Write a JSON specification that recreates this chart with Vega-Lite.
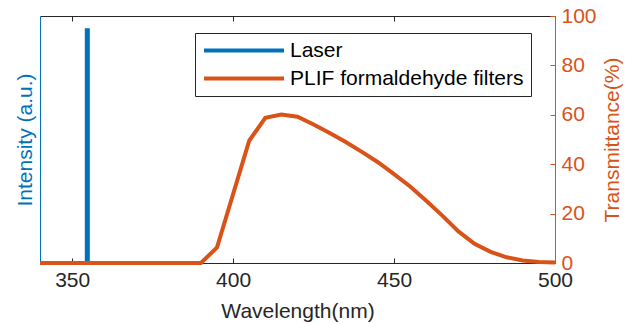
{
  "$schema": "https://vega.github.io/schema/vega-lite/v6.json",
  "width": 515,
  "height": 247,
  "autosize": {"type": "none"},
  "padding": {"left": 40, "top": 16, "right": 83, "bottom": 61},
  "background": "white",
  "config": {
    "view": {"stroke": null},
    "font": "Liberation Sans",
    "axis": {
      "grid": false,
      "labelFont": "Liberation Sans",
      "titleFont": "Liberation Sans",
      "labelFontSize": 21,
      "titleFontSize": 21,
      "titleFontWeight": "normal",
      "labelColor": "#262626",
      "titleColor": "#262626",
      "domainColor": "#262626",
      "tickColor": "#262626",
      "domainWidth": 1,
      "tickWidth": 1,
      "labelFlush": false,
      "labelOverlap": false
    },
    "legend": {
      "orient": "none",
      "legendX": 155,
      "legendY": 17,
      "symbolType": "stroke",
      "symbolSize": 6400,
      "symbolStrokeWidth": 4,
      "clipHeight": 21,
      "labelFont": "Liberation Sans",
      "labelFontSize": 21,
      "labelColor": "#000000",
      "strokeColor": "#262626",
      "fillColor": "white",
      "padding": 7,
      "rowPadding": 6,
      "labelOffset": 4,
      "labelLimit": 400
    }
  },
  "data": {
    "values": [
      {"series": "Laser", "wavelength": 354.7, "value": 95},
      {"series": "PLIF formaldehyde filters", "wavelength": 340, "value": 0},
      {"series": "PLIF formaldehyde filters", "wavelength": 390, "value": 0},
      {"series": "PLIF formaldehyde filters", "wavelength": 395, "value": 6.3},
      {"series": "PLIF formaldehyde filters", "wavelength": 405, "value": 49.5},
      {"series": "PLIF formaldehyde filters", "wavelength": 410, "value": 58.8},
      {"series": "PLIF formaldehyde filters", "wavelength": 415, "value": 60.1},
      {"series": "PLIF formaldehyde filters", "wavelength": 420, "value": 59.2},
      {"series": "PLIF formaldehyde filters", "wavelength": 425, "value": 56.1},
      {"series": "PLIF formaldehyde filters", "wavelength": 430, "value": 52.6},
      {"series": "PLIF formaldehyde filters", "wavelength": 435, "value": 49},
      {"series": "PLIF formaldehyde filters", "wavelength": 440, "value": 45},
      {"series": "PLIF formaldehyde filters", "wavelength": 445, "value": 40.8},
      {"series": "PLIF formaldehyde filters", "wavelength": 450, "value": 36},
      {"series": "PLIF formaldehyde filters", "wavelength": 455, "value": 31},
      {"series": "PLIF formaldehyde filters", "wavelength": 460, "value": 25.2},
      {"series": "PLIF formaldehyde filters", "wavelength": 465, "value": 19.2},
      {"series": "PLIF formaldehyde filters", "wavelength": 470, "value": 12.8},
      {"series": "PLIF formaldehyde filters", "wavelength": 475, "value": 7.8},
      {"series": "PLIF formaldehyde filters", "wavelength": 480, "value": 4.5},
      {"series": "PLIF formaldehyde filters", "wavelength": 485, "value": 2.3},
      {"series": "PLIF formaldehyde filters", "wavelength": 490, "value": 1.0},
      {"series": "PLIF formaldehyde filters", "wavelength": 495, "value": 0.4},
      {"series": "PLIF formaldehyde filters", "wavelength": 500, "value": 0.2}
    ]
  },
  "layer": [
    {
      "transform": [{"filter": "datum.series == 'Laser'"}],
      "mark": {"type": "rule", "strokeWidth": 5},
      "encoding": {
        "x": {
          "field": "wavelength",
          "type": "quantitative",
          "scale": {"domain": [340, 500], "nice": false, "zero": false},
          "axis": {
            "orient": "bottom",
            "values": [350, 400, 450, 500],
            "tickSize": -5,
            "labelPadding": 11,
            "title": "Wavelength(nm)",
            "titlePadding": 10
          }
        },
        "y": {
          "field": "value",
          "type": "quantitative",
          "scale": {"domain": [0, 100], "nice": false},
          "axis": {
            "orient": "left",
            "title": "Intensity (a.u.)",
            "labels": false,
            "ticks": false,
            "domainColor": "#0072BD",
            "titleColor": "#0072BD",
            "titlePadding": 5
          }
        },
        "y2": {"datum": 0},
        "color": {
          "field": "series",
          "type": "nominal",
          "scale": {"domain": ["Laser", "PLIF formaldehyde filters"], "range": ["#0072BD", "#D95319"]},
          "legend": {"title": null}
        }
      }
    },
    {
      "transform": [{"filter": "datum.series != 'Laser'"}],
      "mark": {"type": "line", "strokeWidth": 4},
      "encoding": {
        "x": {
          "field": "wavelength",
          "type": "quantitative",
          "axis": {
            "orient": "top",
            "values": [350, 400, 450, 500],
            "tickSize": -5,
            "labels": false,
            "title": null
          }
        },
        "y": {
          "field": "value",
          "type": "quantitative",
          "scale": {"domain": [0, 100], "nice": false},
          "axis": {
            "orient": "right",
            "values": [0, 20, 40, 60, 80, 100],
            "title": "Transmittance(%)",
            "titleAngle": 270,
            "titleBaseline": "top",
            "tickSize": -5,
            "labelPadding": 11,
            "titlePadding": 5,
            "domainColor": "#D95319",
            "tickColor": "#D95319",
            "labelColor": "#D95319",
            "titleColor": "#D95319"
          }
        },
        "color": {"field": "series", "type": "nominal", "legend": {"title": null}}
      }
    }
  ],
  "resolve": {"scale": {"y": "independent"}, "axis": {"x": "independent"}}
}
